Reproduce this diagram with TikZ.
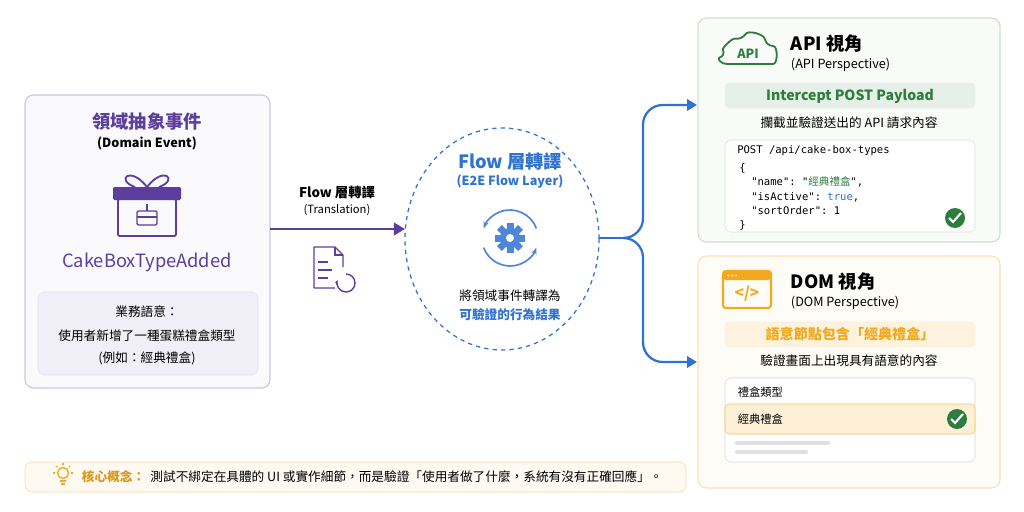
\documentclass[tikz,border=0pt]{standalone}
\usepackage{fontspec}
\setmainfont{Noto Sans CJK TC}
\setmonofont{DejaVu Sans Mono}
\newfontfamily\cjk{Noto Sans CJK TC}
\usetikzlibrary{positioning, arrows.meta, calc}
\definecolor{evpurple}{HTML}{5B3E9E}
\definecolor{flowblue}{HTML}{2F72D0}
\definecolor{apigreen}{HTML}{2E7D3E}
\definecolor{domorange}{HTML}{F2A91E}
\begin{document}
\begin{tikzpicture}[x=0.025cm, y=-0.025cm, font=\fontsize{8}{10}\selectfont]
            \tikzstyle{panel} = [rounded corners=6pt, line width=0.8pt]
            \tikzstyle{title} = [font=\fontsize{13}{15}\selectfont\bfseries]
            \tikzstyle{sub} = [font=\fontsize{9}{11}\selectfont]
            \tikzstyle{body} = [font=\fontsize{9}{11}\selectfont]
            \tikzstyle{code} = [anchor=west, font=\ttfamily\fontsize{7.5}{9}\selectfont, inner sep=0pt]
            \tikzstyle{okmark} = [circle, fill=apigreen, minimum size=0.5cm, inner sep=0pt]
            \useasboundingbox (0,0) rectangle (1024,512);

            % Domain event panel
            \draw[panel, draw=evpurple!30, fill=evpurple!3] (25,95) rectangle (270,388);
            \node[title, text=evpurple] (evtitle) at (147,122) {領域抽象事件};
            \node[sub, font=\fontsize{9}{11}\selectfont\bfseries] (evsub) at (147,143) {(Domain Event)};
            % gift icon
            \draw[evpurple, line width=1.3pt, rounded corners=1pt] (118,199) rectangle (176,236);
            \fill[evpurple, rounded corners=1pt] (113,187) rectangle (181,200);
            \draw[evpurple, line width=1.3pt] (147,187) .. controls (130,165) and (115,180) .. (135,187);
            \draw[evpurple, line width=1.3pt] (147,187) .. controls (164,165) and (179,180) .. (159,187);
            \draw[evpurple, line width=1pt, rounded corners=1pt] (137,211) rectangle (157,225);
            \draw[evpurple, line width=0.8pt] (137,217) -- (157,217) (147,204) -- (147,211);
            \node[title, font=\fontsize{13}{15}\selectfont, text=evpurple] (evname) at (147,262) {CakeBoxTypeAdded};
            \draw[rounded corners=4pt, draw=evpurple!15, fill=evpurple!9] (38,292) rectangle (258,375);
            \node[body] (sem1) at (147,312) {業務語意：};
            \node[body] (sem2) at (147,336) {使用者新增了一種蛋糕禮盒類型};
            \node[body] (sem3) at (147,358) {(例如：經典禮盒)};

            % Flow layer circle
            \draw[flowblue, dashed, line width=0.9pt] (502,239) ellipse [x radius=97, y radius=111];
            \coordinate (flowin) at (405,229);
            \coordinate (flowout) at (599,238);
            \node[title, text=flowblue] (flowtitle) at (510,162) {Flow 層轉譯};
            \node[sub, font=\fontsize{9}{11}\selectfont\bfseries, text=flowblue] (flowsub) at (510,182) {(E2E Flow Layer)};
            % gear
            \foreach \a in {0,45,...,315}
                \fill[flowblue!85, rotate around={\a:(510,238)}] (506.5,223) rectangle (513.5,232);
            \fill[flowblue!85] (510,238) circle (10);
            \fill[white] (510,238) circle (4);
            \draw[flowblue!85, line width=1.2pt, -{Stealth[length=5pt]}] ([shift={(160:28)}]510,238) arc[start angle=160, end angle=20, radius=28];
            \draw[flowblue!85, line width=1.2pt, -{Stealth[length=5pt]}] ([shift={(340:28)}]510,238) arc[start angle=340, end angle=200, radius=28];
            \node[body] (flow1) at (510,296) {將領域事件轉譯為};
            \node[body, text=flowblue, font=\fontsize{9}{11}\selectfont\bfseries] (flow2) at (510,315) {可驗證的行為結果};

            % translation arrow
            \coordinate (evout) at (270,229);
            \draw[evpurple, line width=1.6pt, -{Triangle[length=8pt, width=9pt]}] (evout) -- (flowin);
            \node[body, font=\fontsize{9.5}{11}\selectfont\bfseries] (trtitle) at (337,192) {Flow 層轉譯};
            \node[sub, font=\fontsize{8}{10}\selectfont] (trsub) at (337,210) {(Translation)};
            % doc icon
            \draw[evpurple, line width=1pt, line join=round] (335,288) -- (314,288) -- (314,247) -- (335,247) -- (343,255) -- (343,267);
            \draw[evpurple, line width=1pt] (335,247) -- (335,255) -- (343,255);
            \draw[evpurple, line width=1pt] (318,262) -- (328,262) (318,270) -- (332,270) (318,278) -- (328,278);
            \draw[evpurple, line width=1pt, -{Stealth[length=3pt]}] ([shift={(-90:9)}]346,283) arc[start angle=-90, end angle=200, radius=9];

            % API panel
            \draw[panel, draw=apigreen!25, fill=apigreen!3] (698,18) rectangle (1000,242);
            \coordinate (apiin) at (697,105);
            \draw[apigreen, line width=1.3pt, rounded corners=5pt] (728,64) -- (766,64) .. controls (778,64) and (778,46) .. (766,46) .. controls (764,34) and (748,30) .. (742,40) .. controls (732,38) and (722,48) .. (726,56) .. controls (718,58) and (719,64) .. (728,64);
            \node[text=apigreen, font=\fontsize{9}{10}\selectfont\bfseries] (cloud) at (748,54) {API};
            \node[title, anchor=west] (apititle) at (786,44) {API 視角};
            \node[sub, anchor=west] (apisub) at (786,65) {(API Perspective)};
            \draw[rounded corners=3pt, draw=apigreen!10, fill=apigreen!12] (725,83) rectangle (975,108);
            \node[text=apigreen, font=\fontsize{10}{12}\selectfont\bfseries] (apibar) at (850,96) {Intercept POST Payload};
            \node[body] (apidesc) at (849,123) {攔截並驗證送出的 API 請求內容};
            \draw[rounded corners=4pt, draw=apigreen!20, fill=white] (725,140) rectangle (975,232);
            \node[code] (c1) at (737,151) {POST /api/cake-box-types};
            \node[code] (c2) at (739,168) {\{};
            \node[code] (c3) at (751,182) {"name": "\textcolor{apigreen}{\cjk 經典禮盒}",};
            \node[code] (c4) at (751,197) {"isActive": \textcolor{flowblue}{true},};
            \node[code] (c5) at (751,211) {"sortOrder": 1};
            \node[code] (c6) at (739,225) {\}};
            \node[okmark] (apiok) at (955,218) {};
            \draw[white, line width=1.5pt] (949,218) -- (953,222) -- (961,213);

            % DOM panel
            \draw[panel, draw=domorange!35, fill=domorange!4] (698,256) rectangle (1000,488);
            \coordinate (domin) at (697,362);
            \draw[domorange, line width=1.5pt, rounded corners=2pt] (723,271) rectangle (771,308);
            \fill[domorange, rounded corners=2pt] (723,271) rectangle (771,280);
            \foreach \i in {0,1,2} \fill[white] (728+\i*4,275.5) circle (1);
            \node[text=domorange, font=\fontsize{11}{12}\selectfont\bfseries] (domicon) at (747,294) {</>};
            \node[title, anchor=west] (domtitle) at (786,282) {DOM 視角};
            \node[sub, anchor=west] (domsub) at (786,303) {(DOM Perspective)};
            \draw[rounded corners=3pt, draw=domorange!15, fill=domorange!15] (725,322) rectangle (975,347);
            \node[text=domorange, font=\fontsize{10}{12}\selectfont\bfseries] (dombar) at (850,334) {語意節點包含「經典禮盒」};
            \node[body] (domdesc) at (849,361) {驗證畫面上出現具有語意的內容};
            \draw[rounded corners=4pt, draw=black!15, fill=white] (725,378) rectangle (975,462);
            \node[body, anchor=west, font=\fontsize{8}{10}\selectfont] (row1) at (733,392) {禮盒類型};
            \draw[rounded corners=3pt, draw=domorange!70, fill=domorange!18] (725,404) rectangle (975,434);
            \node[body, anchor=west, font=\fontsize{8}{10}\selectfont] (row2) at (733,419) {經典禮盒};
            \node[okmark] (domok) at (957,419) {};
            \draw[white, line width=1.5pt] (951,419) -- (955,423) -- (963,414);
            \draw[black!12, line width=3pt, line cap=round] (737,443) -- (828,443);
            \draw[black!12, line width=3pt, line cap=round] (737,452) -- (806,452);

            % branching arrows
            \coordinate (fork) at (630,238);
            \draw[flowblue, line width=1.6pt] (flowout) -- (fork);
            \draw[flowblue, line width=1.6pt, rounded corners=14pt, -{Triangle[length=7pt, width=8pt]}] (fork) -- (643,238) -- (643,105) -- (apiin);
            \draw[flowblue, line width=1.6pt, rounded corners=14pt, -{Triangle[length=7pt, width=8pt]}] (fork) -- (643,238) -- (643,362) -- (domin);

            % core idea note
            \draw[rounded corners=5pt, draw=domorange!45, fill=domorange!6] (25,462) rectangle (686,492);
            \draw[domorange, line width=1pt] (63,473) circle (5.5);
            \draw[domorange, line width=1pt] (60,481) -- (66,481) (61,484) -- (65,484);
            \foreach \a in {90,135,45,180,0} \draw[domorange, line width=0.8pt] ($(63,473)+(\a:-8)$) -- ($(63,473)+(\a:-10)$);
            \node[anchor=west, text=domorange!90!black, font=\fontsize{9}{11}\selectfont\bfseries] (notekey) at (77,477) {核心概念：};
            \node[anchor=west, body, inner sep=0pt] (notetext) at (notekey.east) {測試不綁定在具體的 UI 或實作細節，而是驗證「使用者做了什麼，系統有沒有正確回應」。};
\end{tikzpicture}
\end{document}
